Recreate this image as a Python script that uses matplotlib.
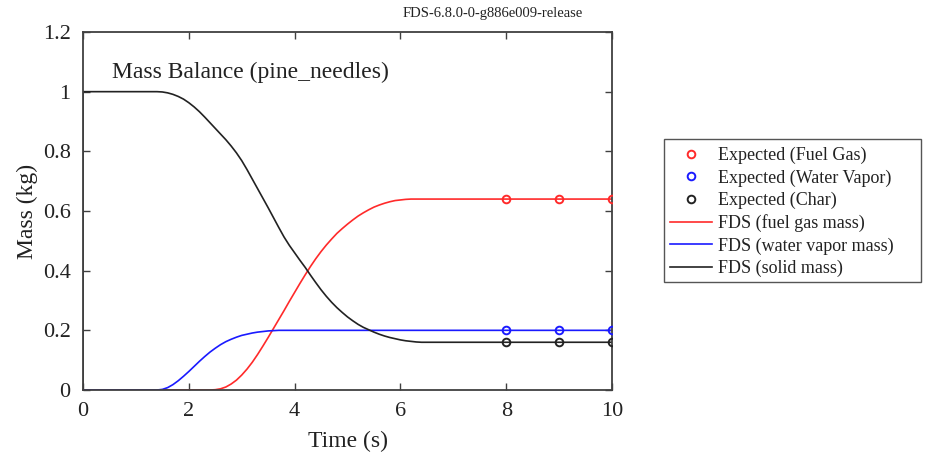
import matplotlib
matplotlib.use("Agg")
import matplotlib.pyplot as plt
from matplotlib.patches import Rectangle

plt.rcParams['font.family'] = ['Liberation Serif', 'DejaVu Serif']

time = [0, 0, 0.5, 1.0, 1.3, 1.4, 1.5, 1.6, 1.7, 1.8, 1.9, 2.0, 2.1, 2.2, 2.3, 2.4, 2.5,
        2.6, 2.7, 2.8, 2.9, 3.0, 3.1, 3.2, 3.3, 3.4, 3.5, 3.6, 3.7, 3.8, 3.9, 4.0, 4.1,
        4.2, 4.3, 4.4, 4.5, 4.6, 4.7, 4.8, 4.9, 5.0, 5.1, 5.2, 5.3, 5.4, 5.5, 5.6, 5.7,
        5.8, 5.9, 6.0, 6.1, 6.2, 6.3, 6.4, 7.0, 8.0, 9.0, 10.0]
solid_mass = [0.0, 1.0, 1.0, 1.0, 1.0, 1.0, 0.999, 0.996, 0.991, 0.984, 0.975, 0.963, 0.949,
              0.933, 0.915, 0.896, 0.877, 0.858, 0.839, 0.818, 0.795, 0.769, 0.739, 0.707,
              0.675, 0.643, 0.611, 0.578, 0.545, 0.513, 0.485, 0.46, 0.435, 0.411, 0.385,
              0.36, 0.336, 0.314, 0.294, 0.276, 0.26, 0.245, 0.232, 0.22, 0.21, 0.202,
              0.194, 0.187, 0.181, 0.176, 0.172, 0.168, 0.165, 0.163, 0.161, 0.16, 0.16,
              0.16, 0.16, 0.16]
water_vapor_mass = [0, 0, 0, 0, 0, 0, 0.002, 0.008, 0.018, 0.031, 0.046, 0.062, 0.079, 0.096,
                    0.112, 0.127, 0.14, 0.152, 0.162, 0.17, 0.177, 0.183, 0.187, 0.191,
                    0.194, 0.196, 0.198, 0.199, 0.2, 0.2, 0.2, 0.2, 0.2, 0.2, 0.2, 0.2, 0.2,
                    0.2, 0.2, 0.2, 0.2, 0.2, 0.2, 0.2, 0.2, 0.2, 0.2, 0.2, 0.2, 0.2, 0.2,
                    0.2, 0.2, 0.2, 0.2, 0.2, 0.2, 0.2, 0.2, 0.2]
fuel_gas_mass = [0, 0, 0, 0, 0, 0, 0, 0, 0, 0, 0, 0, 0, 0, 0, 0, 0.001, 0.004, 0.01, 0.02,
                 0.033, 0.05, 0.07, 0.093, 0.119, 0.147, 0.176, 0.206, 0.236, 0.266, 0.297,
                 0.327, 0.357, 0.386, 0.414, 0.44, 0.464, 0.486, 0.506, 0.525, 0.541, 0.556,
                 0.57, 0.583, 0.594, 0.604, 0.613, 0.62, 0.626, 0.631, 0.635, 0.637, 0.639,
                 0.64, 0.64, 0.64, 0.64, 0.64, 0.64, 0.64]

exp_time = [8, 9, 10]
exp_fuel_gas = [0.64, 0.64, 0.64]
exp_water_vapor = [0.2, 0.2, 0.2]
exp_char = [0.16, 0.16, 0.16]

fig = plt.figure(figsize=(9.32, 4.57), dpi=100)
ax = fig.add_axes([83/932, 1-390/457, (612-83)/932, (390-32)/457])

red = '#ff2a2a'
blue = '#1a1aff'
black = '#222222'

h1, = ax.plot(exp_time, exp_fuel_gas, 'o', mfc='none', mec=red, ms=5.5, mew=1.4, label='Expected (Fuel Gas)', zorder=4)
h2, = ax.plot(exp_time, exp_water_vapor, 'o', mfc='none', mec=blue, ms=5.5, mew=1.4, label='Expected (Water Vapor)', zorder=4)
h3, = ax.plot(exp_time, exp_char, 'o', mfc='none', mec=black, ms=5.5, mew=1.4, label='Expected (Char)', zorder=4)
h4, = ax.plot(time, fuel_gas_mass, '-', color=red, lw=1.2, label='FDS (fuel gas mass)')
h5, = ax.plot(time, water_vapor_mass, '-', color=blue, lw=1.2, label='FDS (water vapor mass)')
h6, = ax.plot(time, solid_mass, '-', color=black, lw=1.2, label='FDS (solid mass)')

ax.set_xlim(0, 10)
ax.set_ylim(0, 1.2)
ax.set_xticks([0, 2, 4, 6, 8, 10])
ax.set_xticklabels(['0', '2', '4', '6', '8', '10'])
ax.set_yticks([0, 0.2, 0.4, 0.6, 0.8, 1.0, 1.2])
ax.set_yticklabels(['0', '0.2', '0.4', '0.6', '0.8', '1', '1.2'])
ax.tick_params(direction='in', top=True, right=True, length=5, width=1, color='#404040',
               labelsize=16, pad=9, labelcolor='#222222')
for s in ax.spines.values():
    s.set_color('#404040')
    s.set_linewidth(1.3)

ax.set_xlabel('Time (s)', fontsize=17, color='#222222', labelpad=7)
ax.set_ylabel('Mass (kg)', fontsize=17, color='#222222', labelpad=3)

ax.text(0.55, 1.065, 'Mass Balance (pine_needles)', fontsize=17, color='#222222', va='center', ha='left')
fig.text(583/932, 1-14/457, 'FDS-6.8.0-0-g886e009-release', fontsize=10.5, ha='right', va='center', color='#222222')

leg = fig.legend(handles=[h1, h2, h3, h4, h5, h6], loc='center left',
                 bbox_to_anchor=(670/932, 1-212/457), fontsize=13,
                 frameon=False, handlelength=2.3, handletextpad=0.38, labelspacing=0.29,
                 borderpad=0, borderaxespad=0, numpoints=1)
for t in leg.get_texts():
    t.set_color('#222222')

fig.add_artist(Rectangle((664/932, 1-282/457), (921-664)/932, (282-139)/457,
                         transform=fig.transFigure, fill=False, edgecolor='#555555', lw=1.0))

fig.savefig('out.png', dpi=100)
